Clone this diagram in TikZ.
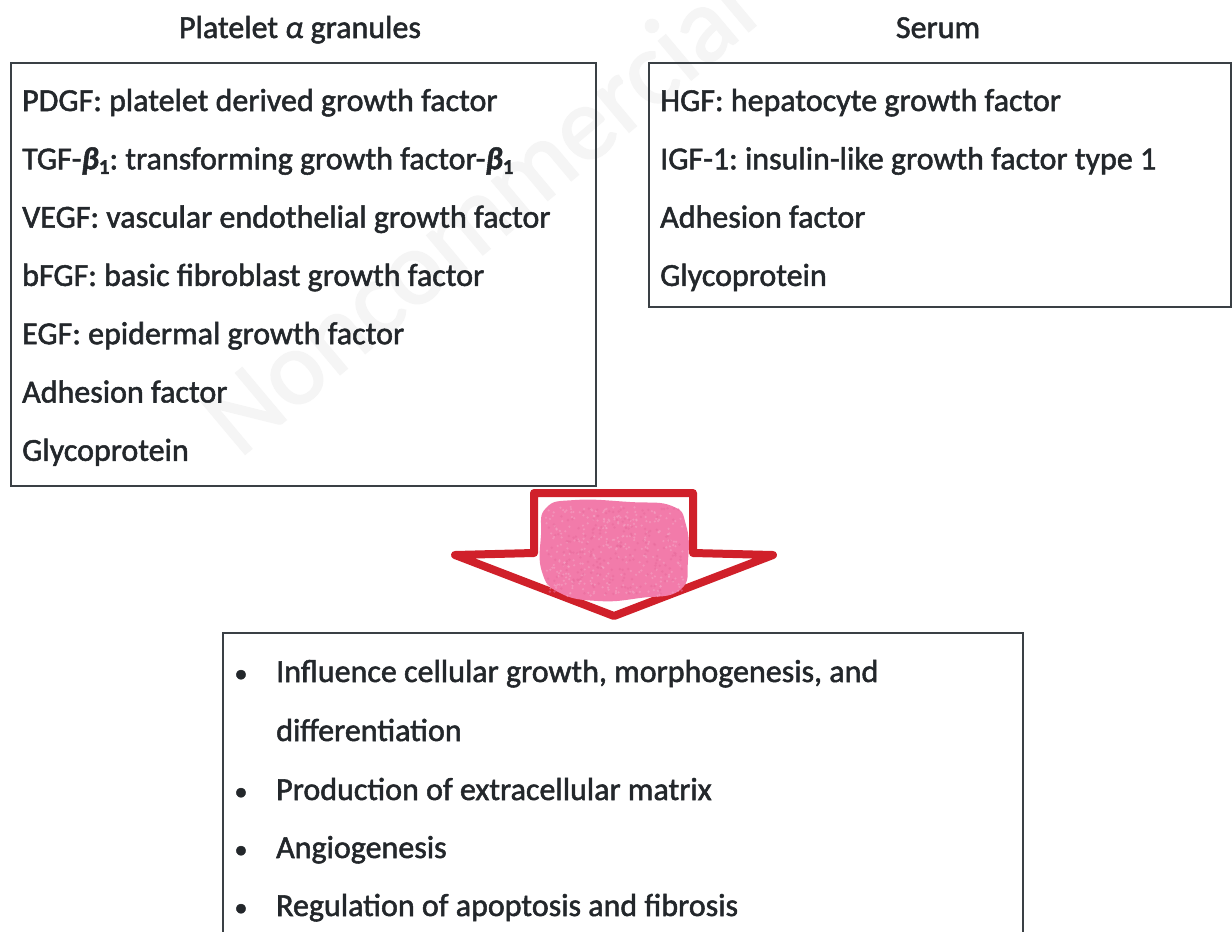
\documentclass[tikz,border=0pt]{standalone}
\usepackage{fontspec}
\setmainfont{Carlito}[FakeBold=1.6]
\definecolor{boxgray}{HTML}{3A4045}
\definecolor{textc}{HTML}{23272B}
\definecolor{arrowred}{HTML}{D0202A}
\definecolor{blobpink}{HTML}{F27BAA}
\definecolor{blobpale}{HTML}{F4A6C6}
\definecolor{blobdark}{HTML}{E86A9C}
\definecolor{wmark}{HTML}{F5F5F5}
\newcommand{\betaone}{{\bfseries\itshape β}\raisebox{-0.3ex}{\fontsize{21}{21}\selectfont\bfseries 1}}
\begin{document}
\frenchspacing
\begin{tikzpicture}[x=1pt,y=-1pt,
  boxframe/.style={draw=boxgray, line width=2.4pt, fill=none, inner sep=0, anchor=north west},
  txt/.style={anchor=base west, inner sep=0, font=\fontsize{32}{38}\selectfont\frenchspacing, text=textc},
  ttl/.style={anchor=base, inner sep=0, font=\fontsize{32}{38}\selectfont, text=textc},
  bul/.style={anchor=base, inner sep=0, font=\fontsize{26}{30}\selectfont, text=textc}]
\useasboundingbox (0,0) rectangle (1232,932);
\clip (0,0) rectangle (1232,932);
\fill[white] (0,0) rectangle (1232,932);
% watermark
\node[rotate=40, font=\fontsize{106}{106}\selectfont, text=wmark, inner sep=0] (wm) at (477,212) {Noncommercial};
% titles
\node[ttl] (t1) at (300,38) {Platelet \textit{α} granules};
\node[ttl] (t2) at (938,38) {Serum};
% boxes
\node[boxframe, minimum width=585, minimum height=423] (plt) at (10,62) {};
\node[boxframe, minimum width=582, minimum height=244] (ser) at (648,62) {};
\node[boxframe, minimum width=800, minimum height=340] (eff) at (222,632) {};
% left box text
\node[txt] (l1) at (22,111) {PDGF: platelet derived growth factor};
\node[txt] (l2) at (22,169.3) {TGF-\betaone: transforming growth factor-\betaone};
\node[txt] (l3) at (22,227.6) {VEGF: vascular endothelial growth factor};
\node[txt] (l4) at (22,285.9) {bFGF: basic fibroblast growth factor};
\node[txt] (l5) at (22,344.2) {EGF: epidermal growth factor};
\node[txt] (l6) at (22,402.5) {Adhesion factor};
\node[txt] (l7) at (22,460.8) {Glycoprotein};
% right box text
\node[txt] (r1) at (660,111) {HGF: hepatocyte growth factor};
\node[txt] (r2) at (660,169.3) {IGF-1: insulin-like growth factor type 1};
\node[txt] (r3) at (660,227.6) {Adhesion factor};
\node[txt] (r4) at (660,285.9) {Glycoprotein};
% bottom box text
\node[bul] (b1) at (241,682) {•};
\node[txt] (e1) at (276,682) {Influence cellular growth, morphogenesis, and};
\node[txt] (e1b) at (276,741) {differentiation};
\node[bul] (b2) at (241,800) {•};
\node[txt] (e2) at (276,800) {Production of extracellular matrix};
\node[bul] (b3) at (241,858) {•};
\node[txt] (e3) at (276,858) {Angiogenesis};
\node[bul] (b4) at (241,916) {•};
\node[txt] (e4) at (276,916) {Regulation of apoptosis and fibrosis};
% arrow
\draw[draw=arrowred, fill=white, line width=8pt, line join=round]
  (534,493) -- (693,493) -- (693,553) -- (773,555) -- (614,616) -- (455,555) -- (534,553) -- cycle;
% pink blob
\fill[blobpink] plot[smooth cycle, tension=0.8] coordinates {(546,508) (575,500) (630,502) (672,506) (686,525) (688,560) (680,590) (640,598) (598,601) (560,593) (542,572) (541,535)};
\pgfmathsetseed{7}
\foreach \i in {1,...,320}{
  \pgfmathsetmacro{\px}{546+rnd*138}
  \pgfmathsetmacro{\py}{506+rnd*90}
  \fill[blobpale, opacity=0.55] (\px,\py) circle (1.2);
}
\foreach \i in {1,...,200}{
  \pgfmathsetmacro{\px}{548+rnd*134}
  \pgfmathsetmacro{\py}{508+rnd*86}
  \fill[blobdark, opacity=0.5] (\px,\py) circle (1.4);
}
\end{tikzpicture}
\end{document}
